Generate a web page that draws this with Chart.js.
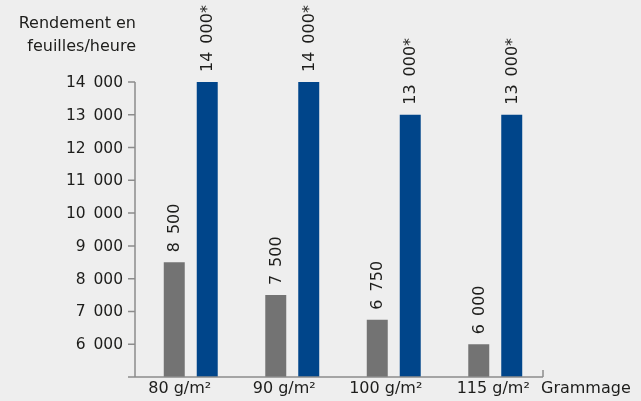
<!DOCTYPE html>
<html><head><meta charset="utf-8">
<script src="https://cdn.jsdelivr.net/npm/chart.js@4.4.1/dist/chart.umd.min.js"></script>
<style>html,body{margin:0;padding:0;background:#eeeeee;}canvas{display:block;}</style>
</head><body>
<canvas id="c" width="641" height="401"></canvas>
<script>
const categories = ['80 g/m²', '90 g/m²', '100 g/m²', '115 g/m²'];
const standardValues = [8500, 7500, 6750, 6000];
const maxValues = [14000, 14000, 13000, 13000];
const maxLabelSuffix = '*';
const yTickValues = [6000, 7000, 8000, 9000, 10000, 11000, 12000, 13000, 14000];
const yTitle = ['Rendement en', 'feuilles/heure'];
const xTitle = 'Grammage';

const FONT = '"DejaVu Sans", sans-serif';
const TEXT = '#1d1d1b';
const AXIS = '#8c8c8c';
const xLabelShift = [-11, -8, -8, -2];

function fmt(v) {
  const s = String(v);
  return s.length > 3 ? s.slice(0, s.length - 3) + '\u2002' + s.slice(-3) : s;
}

const drawPlugin = {
  id: 'drawExtras',
  afterDraw(chart) {
    const ctx = chart.ctx;
    const x = chart.scales.x, y = chart.scales.y;
    const ca = chart.chartArea;
    const axisX = ca.left - 5;
    const bottom = ca.bottom;
    ctx.save();
    ctx.strokeStyle = AXIS;
    ctx.lineWidth = 1.5;
    ctx.beginPath();
    ctx.moveTo(axisX, y.getPixelForValue(14000));
    ctx.lineTo(axisX, bottom);
    ctx.moveTo(axisX - 7, bottom);
    ctx.lineTo(ca.right - 3, bottom);
    ctx.moveTo(ca.right - 3, bottom);
    ctx.lineTo(ca.right - 3, bottom - 7);
    yTickValues.forEach(v => {
      const py = y.getPixelForValue(v);
      ctx.moveTo(axisX - 7, py);
      ctx.lineTo(axisX, py);
    });
    ctx.stroke();

    ctx.fillStyle = TEXT;
    ctx.font = '15.5px ' + FONT;
    ctx.textAlign = 'right';
    ctx.textBaseline = 'middle';
    yTickValues.forEach(v => {
      ctx.fillText(fmt(v), axisX - 12, y.getPixelForValue(v) + 1);
    });
    ctx.font = '16px ' + FONT;
    ctx.fillText(yTitle[0], axisX + 1, 24);
    ctx.fillText(yTitle[1], axisX + 1, 47);

    ctx.textAlign = 'center';
    categories.forEach((c, i) => {
      ctx.fillText(c, x.getPixelForTick(i) + xLabelShift[i], bottom + 12);
    });
    ctx.textAlign = 'left';
    ctx.fillText(xTitle, ca.right - 5, bottom + 12);

    // value labels
    ctx.font = '16px ' + FONT;
    ctx.textAlign = 'left';
    ctx.textBaseline = 'middle';
    chart.data.datasets.forEach((ds, di) => {
      const meta = chart.getDatasetMeta(di);
      meta.data.forEach((bar, i) => {
        const txt = fmt(ds.data[i]) + (di === 1 ? maxLabelSuffix : '');
        ctx.save();
        ctx.translate(bar.x, bar.y - 10);
        ctx.rotate(-Math.PI / 2);
        ctx.fillText(txt, 0, 1);
        ctx.restore();
      });
    });
    ctx.restore();
  }
};

new Chart(document.getElementById('c'), {
  type: 'bar',
  data: {
    labels: categories,
    datasets: [
      { data: standardValues, backgroundColor: '#737373', categoryPercentage: 0.65, barPercentage: 0.636 },
      { data: maxValues, backgroundColor: '#00458a', categoryPercentage: 0.65, barPercentage: 0.636 }
    ]
  },
  options: {
    responsive: false,
    animation: false,
    devicePixelRatio: 1,
    layout: { padding: { top: 82, left: 140, right: 95, bottom: 24 } },
    scales: {
      x: { display: false },
      y: { display: false, min: 5000, max: 14000 }
    },
    plugins: { legend: { display: false }, tooltip: { enabled: false } }
  },
  plugins: [drawPlugin]
});
</script>
</body></html>
